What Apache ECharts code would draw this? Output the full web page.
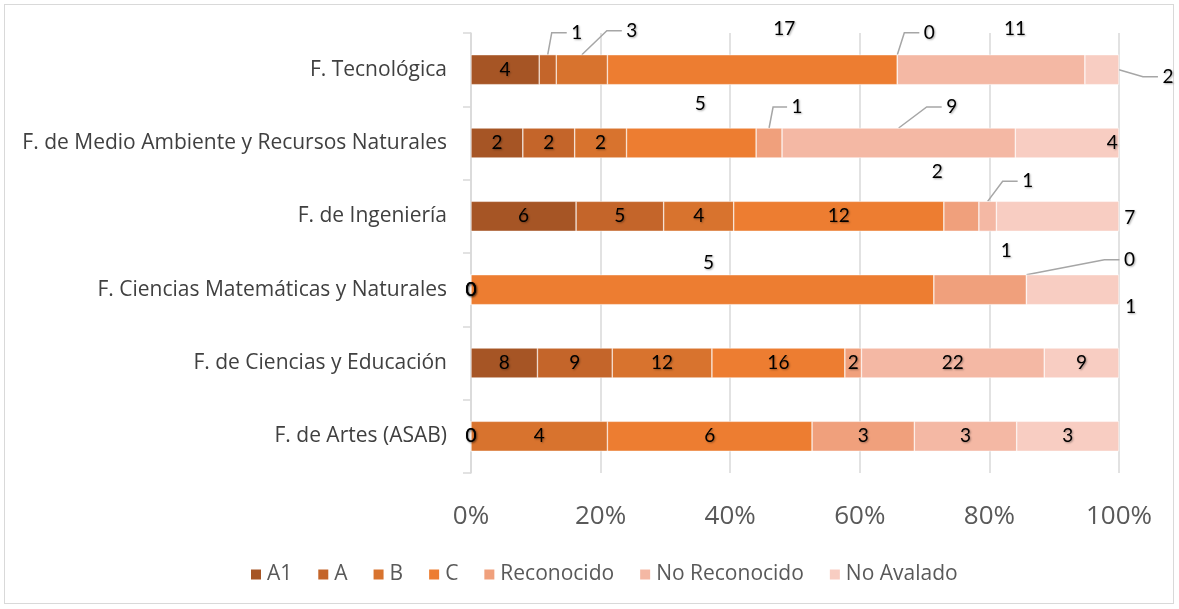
<!DOCTYPE html>
<html>
<head>
<meta charset="utf-8">
<script src="https://cdn.jsdelivr.net/npm/echarts@6/dist/echarts.min.js"></script>
<style>
  html, body { margin: 0; padding: 0; background: #fff; }
  #frame { position: absolute; left: 4px; top: 4px; width: 1170px; height: 600px; border: 1px solid #d9d9d9; box-sizing: border-box; }
  #main { position: absolute; left: 0; top: 0; width: 1179px; height: 609px; }
</style>
</head>
<body>
<div id="frame"></div>
<div id="main"></div>
<script>
// categories, top to bottom as shown
var facultades = [
  "F. Tecnológica",
  "F. de Medio Ambiente y Recursos Naturales",
  "F. de Ingeniería",
  "F. Ciencias Matemáticas y Naturales",
  "F. de Ciencias y Educación",
  "F. de Artes (ASAB)"
];
var seriesNames = ["A1", "A", "B", "C", "Reconocido", "No Reconocido", "No Avalado"];

// counts per facultad, same order as facultades
var a1 = [4, 2, 6, 0, 8, 0];
var a = [1, 2, 5, 0, 9, 0];
var b = [3, 2, 4, 0, 12, 4];
var c = [17, 5, 12, 5, 16, 6];
var reconocido = [0, 1, 2, 1, 2, 3];
var noReconocido = [11, 9, 1, 0, 22, 3];
var noAvalado = [2, 4, 7, 1, 9, 3];

var colors = ["#A65525", "#C4652A", "#D8732E", "#ED7D31", "#F0A07C", "#F4B8A4", "#F8CDC2"];

// labels that excel moved out of the bar: [series, category] -> [dx, dy, leader line]
var labelMoves = {
  "1|0": [29, -37, true], "2|0": [50, -39, true], "3|0": [32, -41, false],
  "4|0": [32, -37, true], "5|0": [24, -41, false], "6|0": [66, 7, true],
  "3|1": [9, -39, false], "4|1": [28, -36, true], "5|1": [53, -36, true], "6|1": [45, 0, false],
  "4|2": [-24, -44, false], "5|2": [40, -35, true], "6|2": [72, 2, false],
  "3|3": [6, -27, false], "4|3": [26, -39, false], "5|3": [103, -30, true], "6|3": [58, 17, false]
};

var raw = [a1, a, b, c, reconocido, noReconocido, noAvalado];
var totals = facultades.map(function (f, i) {
  return raw.reduce(function (s, arr) { return s + arr[i]; }, 0);
});
function pct(si, i) { return raw[si][i] / totals[i] * 100; }
function startPct(si, i) {
  var s = 0;
  for (var k = 0; k < si; k++) s += pct(k, i);
  return s;
}

var chart = echarts.init(document.getElementById("main"));
var textFont = "'Open Sans', sans-serif";
var numFont = "Lato, sans-serif";
var BAR = 30;

var series = raw.map(function (arr, si) {
  return {
    name: seriesNames[si],
    type: "bar",
    stack: "total",
    barWidth: BAR,
    itemStyle: { color: colors[si], borderColor: "#fff", borderWidth: 0.5 },
    label: {
      show: true,
      position: "inside",
      color: "#000",
      fontFamily: numFont,
      fontSize: 19,
      textShadowColor: "rgba(0,0,0,0.35)",
      textShadowBlur: 2,
      textShadowOffsetX: 1,
      textShadowOffsetY: 1,
      formatter: function (p) { return arr[p.dataIndex]; }
    },
    labelLayout: function (p) {
      var m = labelMoves[si + "|" + p.dataIndex];
      if (!m) return {};
      return { dx: m[0], dy: m[1] };
    },
    data: arr.map(function (v, i) { return pct(si, i); })
  };
});

var option = {
  animation: false,
  color: colors,
  grid: { left: 471, right: 60, top: 33, bottom: 136 },
  legend: {
    bottom: 19,
    left: 244,
    itemWidth: 12,
    itemHeight: 12,
    itemGap: 24,
    icon: "rect",
    textStyle: { color: "#595959", fontSize: 21, fontFamily: textFont },
    data: seriesNames
  },
  xAxis: {
    type: "value",
    min: 0,
    max: 100,
    interval: 20,
    axisLine: { show: false },
    axisTick: { show: false },
    splitLine: { lineStyle: { color: "#d9d9d9", width: 1.5 } },
    axisLabel: {
      color: "#595959",
      fontSize: 26,
      fontFamily: textFont,
      margin: 31,
      formatter: "{value}%"
    }
  },
  yAxis: {
    type: "category",
    inverse: true,
    data: facultades,
    axisLine: { show: true, lineStyle: { color: "#d9d9d9", width: 1.5 } },
    axisTick: { show: true, length: 8, lineStyle: { color: "#d9d9d9", width: 1.5 } },
    axisLabel: { color: "#404040", fontSize: 21, fontFamily: textFont, margin: 24 }
  },
  series: series
};

chart.setOption(option);

// excel style leader lines, placed through the chart's own scales
var lines = [];
Object.keys(labelMoves).forEach(function (key) {
  var m = labelMoves[key];
  if (!m[2]) return;
  var si = +key.split("|")[0], i = +key.split("|")[1];
  var mid = startPct(si, i) + pct(si, i) / 2;
  var centre = chart.convertToPixel({ gridIndex: 0 }, [mid, i]);
  var anchor;
  if (Math.abs(m[1]) < 20) {
    anchor = chart.convertToPixel({ gridIndex: 0 }, [startPct(si, i) + pct(si, i), i]);
  } else {
    anchor = [centre[0], centre[1] - BAR / 2];
  }
  var lx = centre[0] + m[0], ly = centre[1] + m[1];
  var halfW = String(raw[si][i]).length * 5;
  var endX = lx - halfW - 5;
  var elbow = Math.max(anchor[0] + 4, endX - 15);
  lines.push({
    type: "polyline",
    silent: true,
    shape: { points: [anchor, [elbow, ly], [endX, ly]] },
    style: { stroke: "#a6a6a6", lineWidth: 1.5, fill: null }
  });
});
chart.setOption({ graphic: lines });
</script>
</body>
</html>
